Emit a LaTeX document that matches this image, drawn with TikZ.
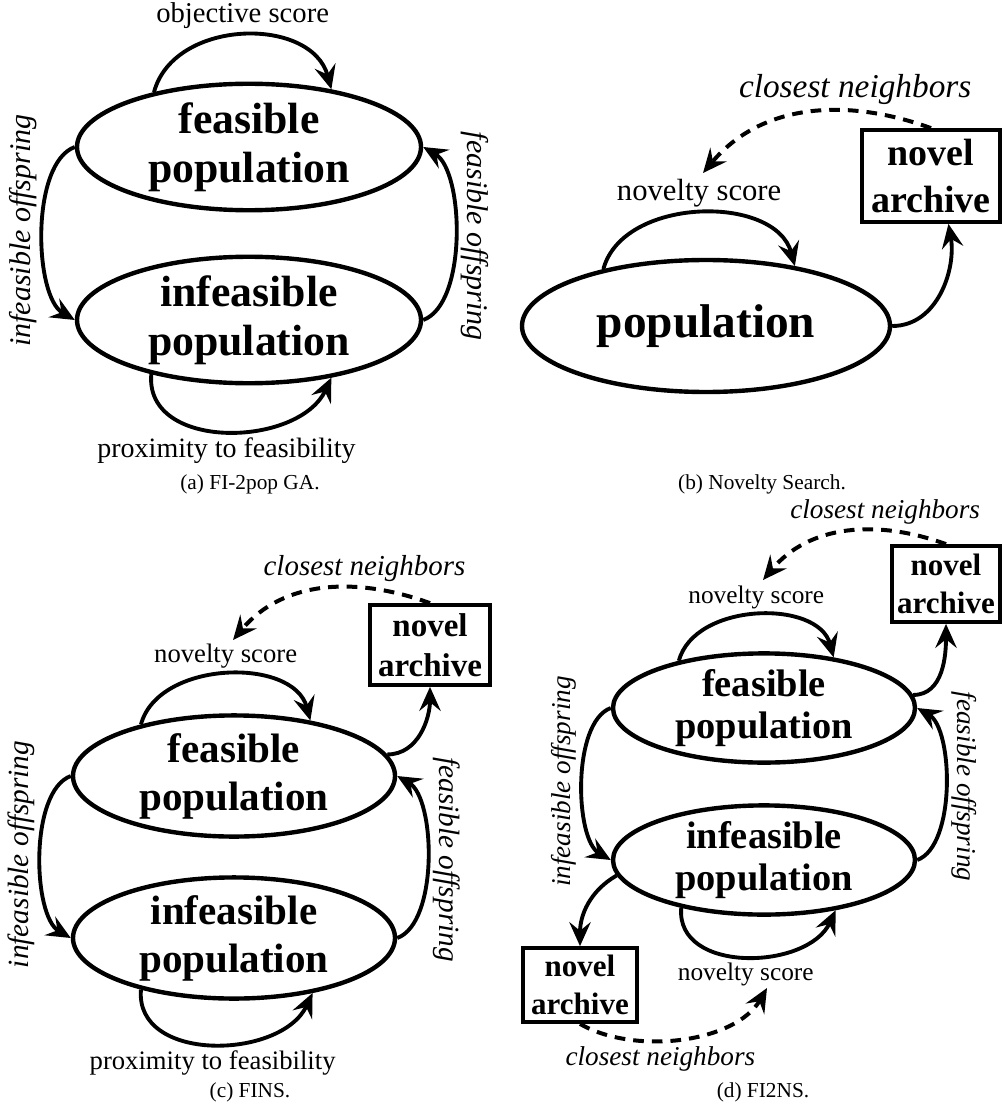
\documentclass[tikz,border=0pt]{standalone}
\usepackage{fontspec}
\setmainfont{Liberation Serif}
\usetikzlibrary{shapes.geometric, arrows.meta}
\tikzstyle{arrow} = [
	line width=2.9pt,
	->,
	>={Stealth[length=18pt, width=16pt, inset=6.5pt]},
	black,
]
\tikzstyle{dasharrow} = [
	arrow,
	line width=3pt,
	dash pattern=on 8pt off 6pt,
]
\tikzset{
  population/.style 2 args={
    ellipse,
    draw=black,
    line width=3.3pt,
    inner sep=0pt,
    align=center,
    text centered,
    font=\bfseries\fontsize{#1}{#2}\selectfont
  },
  archive/.style 2 args={
    rectangle,
    draw=black,
    line width=2.8pt,
    inner sep=1pt,
    align=center,
    text centered,
    font=\bfseries\fontsize{#1}{#2}\selectfont
  },
  scoretext/.style={font=\fontsize{#1}{#1}\selectfont},
  sidetext/.style={font=\itshape\fontsize{#1}{#1}\selectfont},
  subcap/.style={font=\fontsize{16}{16}\selectfont},
}

\begin{document}
\begin{tikzpicture}[x=0.75pt, y=-0.75pt]
    \useasboundingbox (0,0) rectangle (1002,1105);

    % (a)
    \node[population={32.8}{37}, minimum width=258pt, minimum height=93pt] (Fa) at (249,147) {feasible\\population};
    \node[population={32.8}{37}, minimum width=258pt, minimum height=93pt] (Ia) at (249,320) {infeasible\\population};
    \node[subcap] (Ca) at (250,484) {(a) FI-2pop GA.};

    \draw[arrow] (Fa.150) to [out=75, in=105, looseness=1.1] node[scoretext=21.5, above] {objective score} (Fa.35);
    \draw[arrow] (Fa.180) to [out=200, in=150, looseness=0.7] node[sidetext=22.5, rotate=90, above] {infeasible offspring} (Ia.180);
    \draw[arrow] (Ia.0) to [out=20, in=-30, looseness=0.7] node[sidetext=22.5, rotate=-90, above] {feasible offspring} (Fa.0);
    \draw[arrow] (Ia.209) to [out=-95, in=-115, looseness=1.1] node[scoretext=21, below] {proximity to feasibility} (Ia.325);

    % (b)
    \node[population={35.5}{40}, minimum width=276pt, minimum height=99pt] (Pb) at (706,326) {population};
    \node[archive={28.5}{35}, minimum width=103pt, minimum height=69pt] (Nb) at (931,176) {novel\\archive};
    \coordinate (Sb) at (703,173);
    \node[subcap] (Cb) at (762,484) {(b) Novelty Search.};

    \draw[arrow] (Pb.151) to [out=75, in=105] node[scoretext=23, above] {novelty score} (Pb.34);
    \draw[arrow] (Pb.0) to [out=0, in=-80] (Nb.-70);
    \draw[dasharrow] (Nb.north) to [out=160, in=50] node[sidetext=25, pos=0.3, above] {closest neighbors} (Sb);

    % (c)
    \node[population={30.8}{36}, minimum width=241.5pt, minimum height=88.5pt] (Fc) at (234,776) {feasible\\population};
    \node[population={30.8}{36}, minimum width=241.5pt, minimum height=88.5pt] (Ic) at (234,938) {infeasible\\population};
    \node[archive={24.75}{30}, minimum width=90pt, minimum height=60pt] (Nc) at (430,645) {novel\\archive};
    \coordinate (Sc) at (233,640);
    \node[subcap] (Cc) at (250,1092) {(c) FINS.};

    \draw[arrow] (Fc.151) to [out=75, in=105] node[scoretext=20, above] {novelty score} (Fc.36);
    \draw[arrow] (Fc.8) to [out=0, in=-90] (Nc.south);
    \draw[dasharrow] (Nc.north) to [out=160, in=50] node[sidetext=21.7, pos=0.3, above] {closest neighbors} (Sc);
    \draw[arrow] (Fc.180) to [out=200, in=150, looseness=0.7] node[sidetext=22, rotate=90, above] {infeasible offspring} (Ic.180);
    \draw[arrow] (Ic.0) to [out=20, in=-30, looseness=0.7] node[sidetext=22, rotate=-90, above] {feasible offspring} (Fc.0);
    \draw[arrow] (Ic.209) to [out=-95, in=-115, looseness=1.1] node[scoretext=20, below] {proximity to feasibility} (Ic.325);

    % (d)
    \node[population={28.8}{31.5}, minimum width=226.5pt, minimum height=80pt] (Fd) at (764,708) {feasible\\population};
    \node[population={28.8}{31.5}, minimum width=226.5pt, minimum height=80pt] (Id) at (764,860) {infeasible\\population};
    \node[archive={23.25}{28}, minimum width=81pt, minimum height=57pt] (Nd) at (946,584) {novel\\archive};
    \node[archive={23.25}{28}, minimum width=85.5pt, minimum height=55.5pt] (Md) at (580,985) {novel\\archive};
    \coordinate (Sd) at (763,580);
    \coordinate (Td) at (767,988);
    \node[subcap] (Cd) at (763,1092) {(d) FI2NS.};

    \draw[arrow] (Fd.151) to [out=75, in=105] node[scoretext=19, above] {novelty score} (Fd.36);
    \draw[arrow] (Fd.5) to [out=0, in=-90] (Nd.south);
    \draw[dasharrow] (Nd.north) to [out=160, in=50] node[sidetext=20.4, pos=0.3, above] {closest neighbors} (Sd);
    \draw[arrow] (Fd.180) to [out=200, in=150, looseness=0.7] node[sidetext=20.4, rotate=90, above] {infeasible offspring} (Id.180);
    \draw[arrow] (Id.0) to [out=20, in=-30, looseness=0.7] node[sidetext=20.4, rotate=-90, above] {feasible offspring} (Fd.0);
    \draw[arrow] (Id.186) to [out=210, in=90] (Md.north);
    \draw[arrow] (Id.210) to [out=-95, in=-115, looseness=1.1] node[scoretext=19, below] {novelty score} (Id.325);
    \draw[dasharrow] (Md.south) to [out=-30, in=-120, looseness=0.85] node[sidetext=20.4, pos=0.4, below] {closest neighbors} (Td);
  \end{tikzpicture}
\end{document}
